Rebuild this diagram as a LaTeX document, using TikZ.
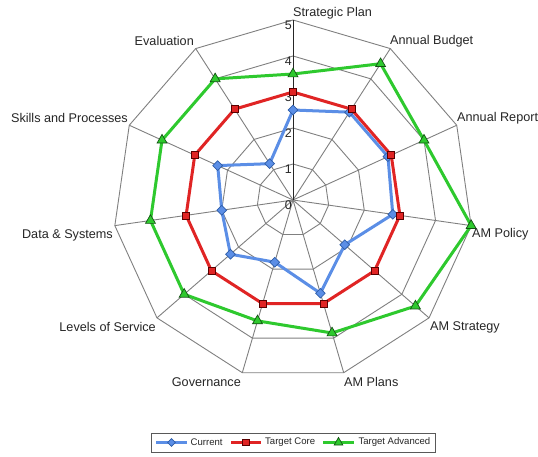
\documentclass[tikz,border=0pt]{standalone}
\usepackage{fontspec}
\setmainfont{Liberation Sans}
\usetikzlibrary{shapes.geometric,calc}
\definecolor{gridgray}{HTML}{808080}
\definecolor{cblue}{HTML}{5B8EE6}
\definecolor{cbluedk}{HTML}{2E5DA8}
\definecolor{cred}{HTML}{E02424}
\definecolor{credk}{HTML}{5A0000}
\definecolor{cgreen}{HTML}{2EC92E}
\definecolor{cgreendk}{HTML}{145214}
\definecolor{txt}{HTML}{262626}
\begin{document}
\begin{tikzpicture}[x=1bp,y=1bp,
  gridline/.style={draw=gridgray, line width=0.9bp},
  axisline/.style={draw=black!85, line width=0.9bp},
  serblue/.style={draw=cblue, line width=3bp, line join=round},
  serred/.style={draw=cred, line width=3bp, line join=round},
  sergreen/.style={draw=cgreen, line width=3bp, line join=round},
  mdiamond/.style={diamond, fill=cblue, draw=cbluedk, line width=0.7bp, minimum width=10bp, minimum height=10bp, inner sep=0pt},
  msquare/.style={rectangle, fill=cred, draw=credk, line width=0.7bp, minimum size=7bp, inner sep=0pt},
  mtri/.style={regular polygon, regular polygon sides=3, fill=cgreen, draw=cgreendk, line width=0.7bp, minimum size=11.5bp, inner sep=0pt},
  lab/.style={font=\fontsize{12.7}{14}\selectfont, text=txt, inner sep=0pt},
  ticklab/.style={font=\fontsize{12.5}{14}\selectfont, text=txt, inner sep=0pt},
  leglab/.style={font=\fontsize{9.6}{11}\selectfont, text=txt, inner sep=0pt, anchor=west},
]
\useasboundingbox[fill=white] (0,0) rectangle (538,-457);

\begin{scope}[shift={(293,-200)}]
  \coordinate (O) at (0,0);
  % rings
  \foreach \r in {1,...,5} {
    \draw[gridline] (90:\r*36) \foreach \k in {1,...,10} { -- ({90-\k*360/11}:\r*36) } -- cycle;
  }
  % spokes
  \foreach \k in {0,...,10} {
    \coordinate (rim\k) at ({90-\k*360/11}:180);
  }
  \foreach \k in {1,...,10} {
    \draw[gridline] (O) -- (rim\k);
  }
  \draw[axisline] (O) -- (rim0);
  % tick labels
  \foreach \r in {0,...,5} {
    \node[ticklab, anchor=north east] (tick\r) at (-1, \r*36-1) {\r};
  }
  % data coordinates
  \foreach \v [count=\i from 0] in {2.5,2.9,2.9,2.8,1.9,2.7,1.8,2.3,2,2.3,1.2} {
    \coordinate (b\i) at ({90-\i*360/11}:\v*36);
  }
  \foreach \v [count=\i from 0] in {3,3,3,3,3,3,3,3,3,3,3} {
    \coordinate (r\i) at ({90-\i*360/11}:\v*36);
  }
  \foreach \v [count=\i from 0] in {3.5,4.5,4,5,4.5,3.85,3.5,4,4,4,4} {
    \coordinate (g\i) at ({90-\i*360/11}:\v*36);
  }
  % series
  \draw[serblue] (b0) \foreach \i in {1,...,10} { -- (b\i) } -- cycle;
  \foreach \i in {0,...,10} { \node[mdiamond] (mb\i) at (b\i) {}; }
  \draw[serred] (r0) \foreach \i in {1,...,10} { -- (r\i) } -- cycle;
  \foreach \i in {0,...,10} { \node[msquare] (mr\i) at (r\i) {}; }
  \draw[sergreen] (g0) \foreach \i in {1,...,10} { -- (g\i) } -- cycle;
  \foreach \i in {0,...,10} { \node[mtri] (mg\i) at (g\i) {}; }
\end{scope}

% category labels
\node[lab, anchor=west] (l0) at (293,-13) {Strategic Plan};
\node[lab, anchor=west] (l1) at (390,-41) {Annual Budget};
\node[lab, anchor=west] (l2) at (457,-118) {Annual Report};
\node[lab, anchor=west] (l3) at (472,-234) {AM Policy};
\node[lab, anchor=west] (l4) at (430,-327) {AM Strategy};
\node[lab, anchor=west] (l5) at (344,-382) {AM Plans};
\node[lab, anchor=east] (l6) at (241,-382) {Governance};
\node[lab, anchor=east] (l7) at (156,-327) {Levels of Service};
\node[lab, anchor=east] (l8) at (113,-235) {Data \& Systems};
\node[lab, anchor=east] (l9) at (128,-118) {Skills and Processes};
\node[lab, anchor=east] (l10) at (194,-41) {Evaluation};

% legend
\draw[draw=black!65, line width=1bp] (151,-433) rectangle (435,-452);
\coordinate (la1) at (156,-442.5); \coordinate (la2) at (187,-442.5);
\coordinate (lb1) at (231,-442.5); \coordinate (lb2) at (261,-442.5);
\coordinate (lc1) at (323,-442.5); \coordinate (lc2) at (354,-442.5);
\draw[draw=cblue, line width=2.2bp] (la1) -- (la2);
\node[mdiamond, minimum width=8bp, minimum height=8bp] (lma) at ($(la1)!0.5!(la2)$) {};
\node[leglab] (lta) at (190.5,-442.5) {Current};
\draw[draw=cred, line width=2.2bp] (lb1) -- (lb2);
\node[msquare, minimum size=6.5bp] (lmb) at ($(lb1)!0.5!(lb2)$) {};
\node[leglab] (ltb) at (265,-442.5) {Target Core};
\draw[draw=cgreen, line width=2.2bp] (lc1) -- (lc2);
\node[mtri, minimum size=10bp] (lmc) at ($(lc1)!0.5!(lc2)$) {};
\node[leglab] (ltc) at (358.3,-442.5) {Target Advanced};
\end{tikzpicture}
\end{document}
